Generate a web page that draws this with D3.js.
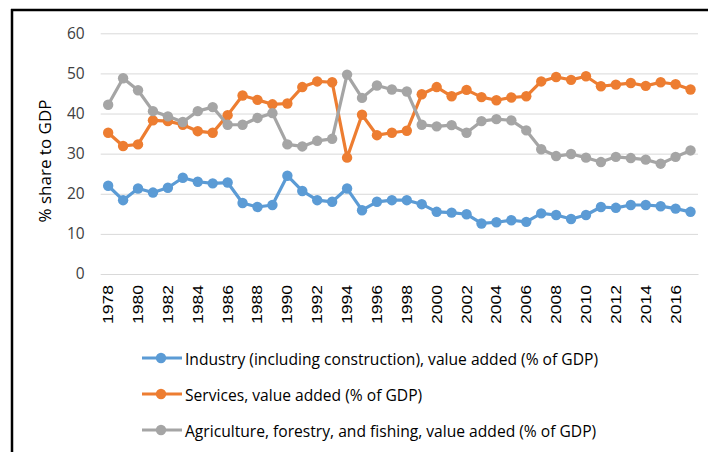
<!DOCTYPE html>
<html>
<head>
<meta charset="utf-8">
<script src="https://cdn.jsdelivr.net/npm/d3@7"></script>
<style>
  html, body { margin: 0; padding: 0; background: #fff; }
  svg { display: block; }
</style>
</head>
<body>
<svg id="chart" width="708" height="452"></svg>
<script>
const years = [1978,1979,1980,1981,1982,1983,1984,1985,1986,1987,1988,1989,1990,1991,1992,1993,1994,1995,1996,1997,1998,1999,2000,2001,2002,2003,2004,2005,2006,2007,2008,2009,2010,2011,2012,2013,2014,2015,2016,2017];
const industry = [22.0,18.4,21.3,20.3,21.5,24.0,23.0,22.6,22.8,17.7,16.7,17.2,24.5,20.7,18.4,18.0,21.3,15.9,18.0,18.4,18.4,17.4,15.5,15.3,14.9,12.6,12.9,13.4,13.0,15.1,14.7,13.7,14.7,16.7,16.5,17.2,17.2,16.9,16.3,15.5];
const services = [35.2,31.9,32.3,38.3,38.1,37.2,35.6,35.2,39.6,44.5,43.4,42.3,42.5,46.6,48.0,47.8,29.0,39.7,34.6,35.2,35.7,44.8,46.6,44.3,45.9,44.1,43.3,44.0,44.3,48.0,49.1,48.4,49.3,46.8,47.2,47.6,46.9,47.8,47.3,46.0];
const agriculture = [42.2,48.8,45.8,40.6,39.3,37.9,40.6,41.6,37.2,37.2,38.9,40.1,32.3,31.8,33.2,33.7,49.7,43.9,47.0,46.0,45.5,37.2,36.8,37.1,35.2,38.1,38.6,38.3,35.8,31.1,29.4,29.9,29.0,27.9,29.2,28.9,28.5,27.5,29.2,30.8];
const seriesNames = ["Industry (including construction), value added (% of GDP)", "Services, value added (% of GDP)", "Agriculture, forestry, and fishing, value added (% of GDP)"];
const yTicks = [0,10,20,30,40,50,60];
const xTickLabels = [1978,1980,1982,1984,1986,1988,1990,1992,1994,1996,1998,2000,2002,2004,2006,2008,2010,2012,2014,2016];
const yTitle = "% share to GDP";

const colors = ["#5B9BD5", "#ED7D31", "#A5A5A5"];
const seriesData = [industry, services, agriculture];

const svg = d3.select("#chart");
const plot = {left: 100.7, right: 698, top: 33.3, bottom: 274};

const x = d3.scaleBand().domain(years).range([plot.left, plot.right]).padding(0);
const cx = d => x(d) + x.bandwidth() / 2;
const y = d3.scaleLinear().domain([0, 60]).range([plot.bottom, plot.top]);

// frame (top and left edges)
svg.append("line").attr("x1", 11).attr("x2", 708).attr("y1", 10).attr("y2", 10)
  .attr("stroke", "#000").attr("stroke-width", 2.5);
svg.append("line").attr("x1", 12).attr("x2", 12).attr("y1", 9).attr("y2", 452)
  .attr("stroke", "#000").attr("stroke-width", 2.5);

// gridlines
const yAxis = d3.axisLeft(y).tickValues(yTicks).tickSize(-(plot.right - plot.left)).tickPadding(16);
const gy = svg.append("g").attr("transform", `translate(${plot.left},0)`).call(yAxis);
gy.select(".domain").remove();
gy.selectAll(".tick line").attr("stroke", "#D9D9D9").attr("stroke-width", 1);
gy.selectAll(".tick text")
  .attr("font-family", "'Open Sans', 'Noto Sans', sans-serif")
  .attr("font-size", "15.5px").attr("fill", "#404040");

// x axis
const xAxis = d3.axisBottom(x).tickValues(xTickLabels).tickSize(0).tickPadding(0);
const gx = svg.append("g").attr("transform", `translate(0,${plot.bottom})`).call(xAxis);
gx.select(".domain").attr("stroke", "#D9D9D9").attr("stroke-width", 1);
gx.selectAll(".tick text")
  .attr("font-family", "'Liberation Sans', Arial, sans-serif")
  .attr("font-size", "14px").attr("fill", "#000")
  .attr("text-anchor", "end")
  .attr("dominant-baseline", "central")
  .attr("dy", null)
  .attr("y", 0)
  .attr("transform", "translate(0,11) rotate(-90)")
  .attr("textLength", 39).attr("lengthAdjust", "spacingAndGlyphs");

// y title
svg.append("text")
  .attr("transform", "translate(44,161) rotate(-90)")
  .attr("text-anchor", "middle").attr("dominant-baseline", "central")
  .attr("font-family", "'Open Sans', 'Noto Sans', sans-serif")
  .attr("font-size", "17px").attr("fill", "#000")
  .text(yTitle);

// series
const line = d3.line().x((d, i) => cx(years[i])).y(d => y(d));
seriesData.forEach((vals, s) => {
  const g = svg.append("g");
  g.append("path").datum(vals).attr("d", line)
    .attr("fill", "none").attr("stroke", colors[s]).attr("stroke-width", 3.2)
    .attr("stroke-linejoin", "round");
  g.selectAll("circle").data(vals).join("circle")
    .attr("cx", (d, i) => cx(years[i])).attr("cy", d => y(d)).attr("r", 5.2)
    .attr("fill", colors[s]);
});

// legend
const legendRows = [358, 394, 430];
const lg = svg.append("g");
let factor = null;
seriesNames.forEach((name, i) => {
  const ly = legendRows[i];
  lg.append("line").attr("x1", 142).attr("x2", 182).attr("y1", ly).attr("y2", ly)
    .attr("stroke", colors[i]).attr("stroke-width", 3.2);
  lg.append("circle").attr("cx", 161).attr("cy", ly).attr("r", 5.2).attr("fill", colors[i]);
  const t = lg.append("text").attr("x", 185).attr("y", ly)
    .attr("dominant-baseline", "central")
    .attr("font-family", "'Open Sans', 'Noto Sans', sans-serif")
    .attr("font-size", "16.5px").attr("fill", "#000")
    .text(name);
  const w = t.node().getComputedTextLength();
  if (factor === null) factor = 413 / w;
  t.attr("textLength", w * factor).attr("lengthAdjust", "spacingAndGlyphs");
});
</script>
</body>
</html>
